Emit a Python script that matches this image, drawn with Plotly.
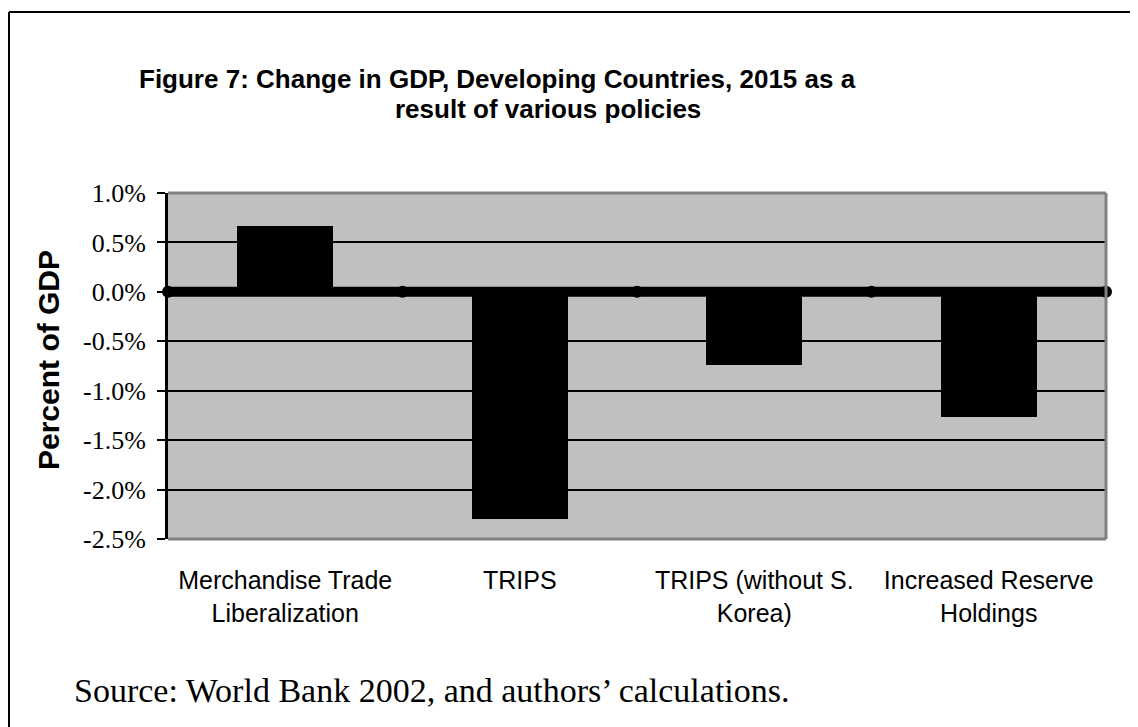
import plotly.graph_objects as go

categories = ["Merchandise Trade<br>Liberalization", "TRIPS", "TRIPS (without S.<br>Korea)", "Increased Reserve<br>Holdings"]
gdp_change = [0.67, -2.30, -0.74, -1.27]
zero_x = [0, 1, 2, 3, 4]
zero_y = [0, 0, 0, 0, 0]
y_ticks = [1.0, 0.5, 0.0, -0.5, -1.0, -1.5, -2.0, -2.5]
y_tick_labels = ["1.0%", "0.5%", "0.0%", "-0.5%", "-1.0%", "-1.5%", "-2.0%", "-2.5%"]

# page body adds an 8px margin; figure coordinates = reference pixels - 8
OFF = 8
W, H = 1138 - OFF, 727 - OFF
L, R, T, B = 168 - OFF, 32, 193 - OFF, 188
pw, ph = W - L - R, H - T - B

def px(x):
    return (x - OFF - L) / pw

def py(y):
    return (H - B - (y - OFF)) / ph

fig = go.Figure()
fig.add_trace(go.Bar(x=categories, y=gdp_change, width=0.41,
                     marker=dict(color="black", line=dict(width=0)),
                     showlegend=False, hoverinfo="skip"))
fig.add_trace(go.Scatter(x=zero_x, y=zero_y, xaxis="x2", mode="lines+markers",
                         line=dict(color="black", width=10),
                         marker=dict(color="black", size=12),
                         cliponaxis=False, showlegend=False, hoverinfo="skip"))

fig.update_layout(
    width=W, height=H,
    margin=dict(l=L, r=R, t=T, b=B),
    paper_bgcolor="white", plot_bgcolor="#C0C0C0",
    bargap=0,
    xaxis=dict(type="category", showgrid=False, showline=False, ticks="",
               tickfont=dict(family="Liberation Sans, Arial", size=25, color="black"),
               ticklabelstandoff=24,
               range=[-0.5, 3.5], fixedrange=True),
    xaxis2=dict(overlaying="x", range=[0, 4], visible=False, fixedrange=True),
    yaxis=dict(range=[-2.5, 1.0], tickvals=y_ticks, ticktext=y_tick_labels,
               showgrid=True, gridcolor="black", gridwidth=2,
               zeroline=False,
               showline=True, linecolor="black", linewidth=3,
               ticks="outside", ticklen=8, tickwidth=2, tickcolor="black",
               ticklabelstandoff=6,
               tickfont=dict(family="Liberation Serif, Times New Roman", size=26, color="black"),
               fixedrange=True),
    shapes=[
        dict(type="line", xref="paper", yref="paper", x0=1, x1=1, y0=0, y1=1,
             line=dict(color="#808080", width=3), layer="above"),
        dict(type="line", xref="paper", yref="paper", x0=0, x1=1, y0=1, y1=1,
             line=dict(color="#808080", width=3), layer="above"),
        dict(type="line", xref="paper", yref="paper", x0=0, x1=1, y0=0, y1=0,
             line=dict(color="#808080", width=3), layer="above"),
        dict(type="line", xref="paper", yref="paper", x0=px(9), x1=px(1150), y0=py(12), y1=py(12),
             line=dict(color="black", width=2)),
        dict(type="line", xref="paper", yref="paper", x0=px(9), x1=px(9), y0=py(12), y1=py(740),
             line=dict(color="black", width=2)),
    ],
    annotations=[
        dict(text="<b>Figure 7: Change in GDP, Developing Countries, 2015 as a</b>",
             xref="paper", yref="paper", x=px(497), y=py(79), xanchor="center", yanchor="middle",
             showarrow=False, font=dict(family="Liberation Sans, Arial", size=26, color="black")),
        dict(text="<b>result of various policies</b>",
             xref="paper", yref="paper", x=px(548), y=py(109), xanchor="center", yanchor="middle",
             showarrow=False, font=dict(family="Liberation Sans, Arial", size=26, color="black")),
        dict(text="<b>Percent of GDP</b>", textangle=-90,
             xref="paper", yref="paper", x=px(48), y=py(360), xanchor="center", yanchor="middle",
             showarrow=False, font=dict(family="Liberation Sans, Arial", size=30, color="black")),
        dict(text="Source: World Bank 2002, and authors\u2019 calculations.",
             xref="paper", yref="paper", x=px(72), y=py(690), xanchor="left", yanchor="middle",
             showarrow=False, font=dict(family="Liberation Serif, Times New Roman", size=34, color="black")),
    ],
)

fig.write_html("out.html")
